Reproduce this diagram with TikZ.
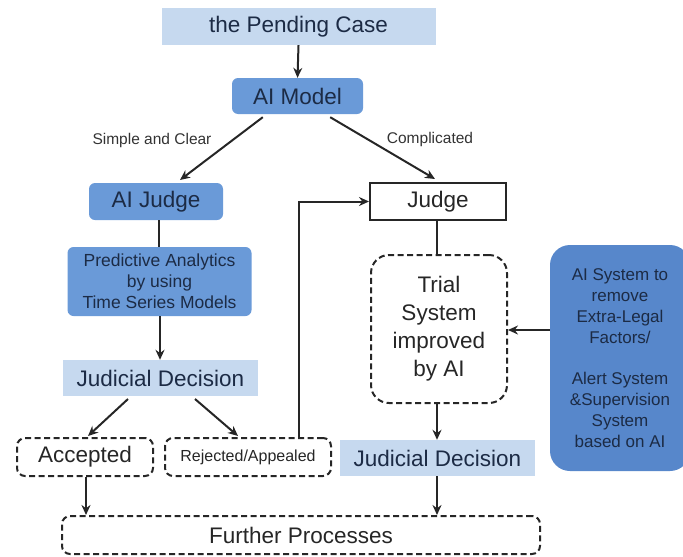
\documentclass[tikz,border=0pt]{standalone}
\usepackage{fontspec}
\setmainfont{Liberation Sans}
\usetikzlibrary{arrows.meta}
\definecolor{lightb}{HTML}{C6D9EF}
\definecolor{midb}{HTML}{6A9AD8}
\definecolor{darkb}{HTML}{5787CB}
\definecolor{navy}{HTML}{1C2B45}
\begin{document}
\begin{tikzpicture}[x=1pt,y=-1pt,
  big/.style={font=\fontsize{22.5}{26}\selectfont},
  lbox/.style={fill=lightb,draw=none,text=navy,inner sep=0pt,big},
  mbox/.style={fill=midb,draw=none,rounded corners=6pt,text=navy,inner sep=0pt,align=center},
  dbox/.style={draw=black!85,line width=2pt,dash pattern=on 6pt off 3.5pt,rounded corners=8pt,inner sep=0pt,align=center,text=black!85},
  arr/.style={-{Stealth[length=10pt,width=9pt]},line width=2pt,draw=black!85},
  ln/.style={line width=2pt,draw=black!85},
  lab/.style={font=\fontsize{15.5}{18}\selectfont,text=black!80}]
\useasboundingbox (0,0) rectangle (683,557);
\node[lbox,minimum width=274pt,minimum height=37pt] (pend) at (298.5,26.5) {the Pending Case};
\node[mbox,minimum width=131pt,minimum height=36pt,big] (model) at (297.5,96) {AI Model};
\node[mbox,minimum width=134pt,minimum height=37pt,big] (aij) at (156,201.5) {AI Judge};
\node[mbox,minimum width=184pt,minimum height=69pt,font=\fontsize{17.5}{21}\selectfont] (pred) at (159.5,281.5) {Predictive Analytics\\by using\\Time Series Models};
\node[lbox,minimum width=195pt,minimum height=36pt] (jd1) at (160.5,378) {Judicial Decision};
\node[dbox,minimum width=136pt,minimum height=38pt,big] (acc) at (85,457) {Accepted};
\node[dbox,minimum width=166pt,minimum height=38pt,font=\fontsize{16}{19}\selectfont] (rej) at (248,457) {Rejected/Appealed};
\node[draw=black!85,line width=2pt,minimum width=136pt,minimum height=37pt,inner sep=0pt,big,text=black!85] (judge) at (438,201.5) {Judge};
\node[dbox,minimum width=136pt,minimum height=148pt,rounded corners=18pt,font=\fontsize{22.5}{28}\selectfont] (trial) at (439,329) {Trial\\System\\improved\\by AI};
\node[fill=darkb,rounded corners=20pt,minimum width=140pt,minimum height=226pt,inner sep=0pt,align=center,text=navy,font=\fontsize{17}{21}\selectfont] (ais) at (620,358) {AI System to\\remove\\Extra-Legal\\Factors/\\[20pt]Alert System\\\&Supervision\\System\\based on AI};
\node[lbox,minimum width=195pt,minimum height=36pt] (jd2) at (437.5,458) {Judicial Decision};
\node[dbox,minimum width=478pt,minimum height=38pt,big] (fur) at (301,535) {Further Processes};
\draw[arr] (pend.south) -- (model.north);
\draw[arr] (model.south west) ++(31,3) coordinate (m1) -- (180,180) coordinate (a1);
\draw[arr] (model.south east) ++(-33,3) coordinate (m2) -- (435,179) coordinate (a2);
\node[lab] (lsc) at (152,140) {Simple and Clear};
\node[lab] (lcp) at (430,139) {Complicated};
\draw[ln] (aij.south -| 159,0) -- (pred.north -| 159,0);
\draw[arr] (pred.south -| 160,0) -- (jd1.north -| 160,0);
\draw[arr] (128,399) -- (88,436);
\draw[arr] (195,399) -- (238,436);
\draw[arr] (rej.north -| 299,0) |- (judge.west);
\draw[ln] (judge.south -| 437,0) -- (trial.north -| 437,0);
\draw[arr] (ais.west |- 0,330) -- (trial.east |- 0,330);
\draw[arr] (trial.south -| 437,0) -- (jd2.north -| 437,0);
\draw[arr] (jd2.south -| 437,0) -- (fur.north -| 437,0);
\draw[arr] (acc.south -| 86,0) -- (fur.north -| 86,0);
\end{tikzpicture}
\end{document}
